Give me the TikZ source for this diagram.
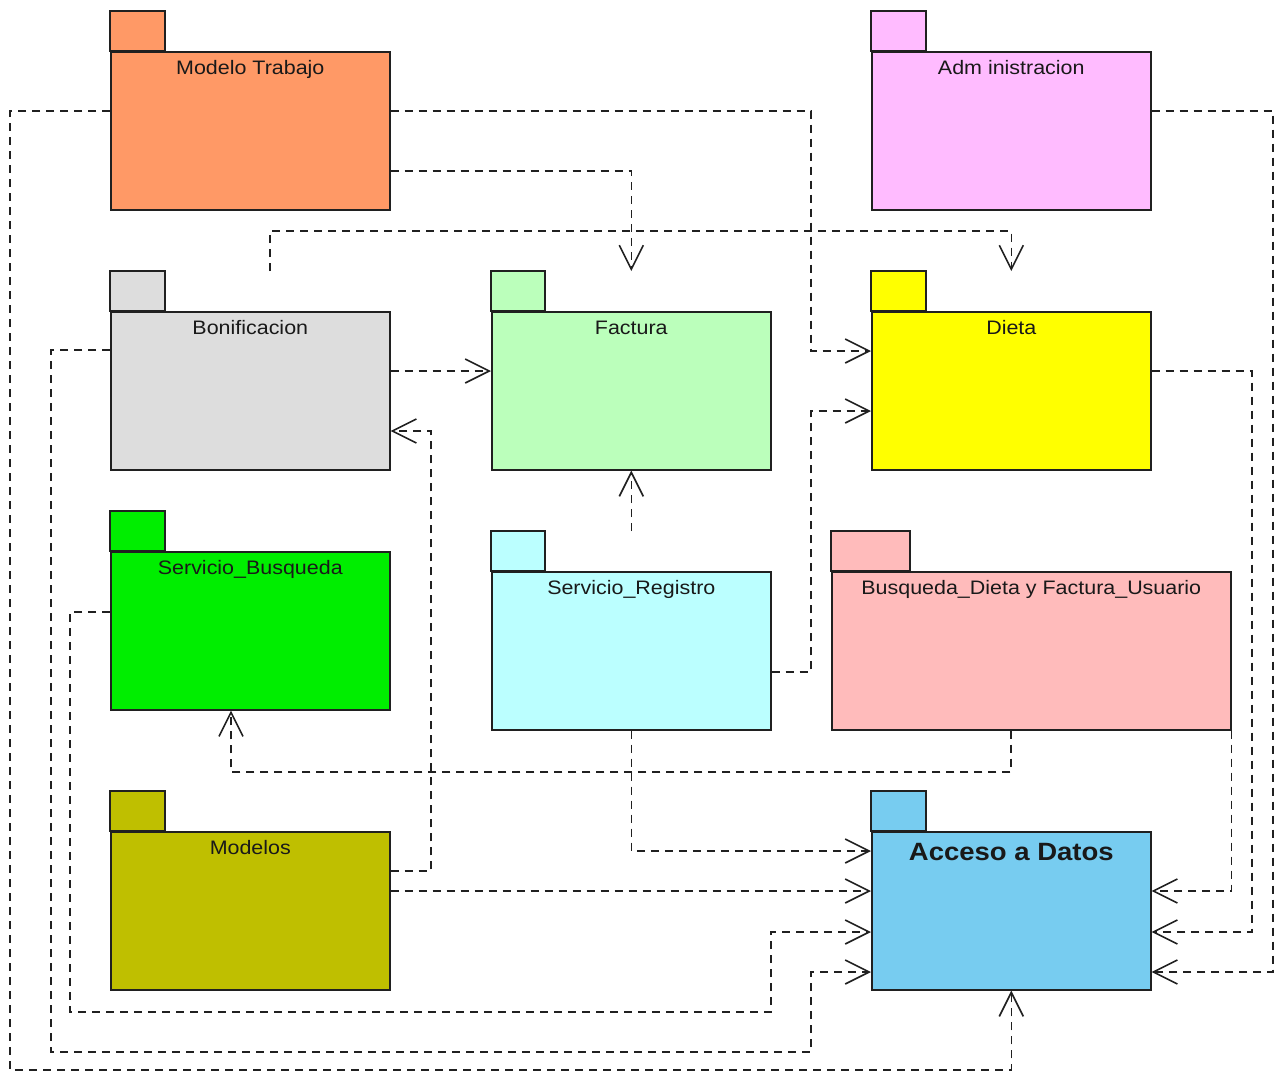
\documentclass[tikz,border=0pt]{standalone}
\usepackage{fontspec}
\setmainfont{Liberation Sans}[FakeStretch=1.1]
\usetikzlibrary{arrows.meta}
\definecolor{linec}{HTML}{202020}
\definecolor{cMT}{HTML}{FF9966}
\definecolor{cAD}{HTML}{FFBBFF}
\definecolor{cBO}{HTML}{DDDDDD}
\definecolor{cFA}{HTML}{BBFFBB}
\definecolor{cDI}{HTML}{FFFF00}
\definecolor{cSB}{HTML}{00EE00}
\definecolor{cSR}{HTML}{BBFFFF}
\definecolor{cBD}{HTML}{FFBBBB}
\definecolor{cMO}{HTML}{BFBF00}
\definecolor{cAC}{HTML}{77CCF0}
\tikzset{
  body/.style={draw=linec, line width=1.6pt, rectangle, anchor=north west, inner sep=0pt,
    minimum width=279pt, minimum height=158pt},
  tabbox/.style={draw=linec, line width=1.6pt},
  lbl/.style={anchor=base, inner sep=0pt, font=\fontsize{19.5}{22}\selectfont, text=black!90},
  biglbl/.style={anchor=base, inner sep=0pt, font=\fontsize{25}{28}\selectfont\bfseries, text=black!90},
  dep/.style={draw=linec, line width=1.6pt, dash pattern=on 8pt off 6pt,
    -{Straight Barb[length=24pt,width=24pt,line width=1.6pt]}},
}
\begin{document}
\begin{tikzpicture}[x=1pt,y=-1pt]
\useasboundingbox (0,0) rectangle (1279,1072);
\fill[white] (0,0) rectangle (1279,1072);

% ---- packages ----
% Modelo Trabajo
\draw[tabbox, fill=cMT] (110,11) rectangle (165,51);
\node[body, fill=cMT] (mt) at (110,51) {};
\node[lbl] (mtl) at ([yshift=-23pt]mt.north) {Modelo Trabajo};
% Administracion
\draw[tabbox, fill=cAD] (871,11) rectangle (926,51);
\node[body, fill=cAD] (ad) at (871,51) {};
\node[lbl] (adl) at ([yshift=-23pt]ad.north) {Adm inistracion};
% Bonificacion
\draw[tabbox, fill=cBO] (110,271) rectangle (165,311);
\node[body, fill=cBO] (bo) at (110,311) {};
\node[lbl] (bol) at ([yshift=-23pt]bo.north) {Bonificacion};
% Factura
\draw[tabbox, fill=cFA] (491,271) rectangle (545,311);
\node[body, fill=cFA] (fa) at (491,311) {};
\node[lbl] (fal) at ([yshift=-23pt]fa.north) {Factura};
% Dieta
\draw[tabbox, fill=cDI] (871,271) rectangle (926,311);
\node[body, fill=cDI] (di) at (871,311) {};
\node[lbl] (dil) at ([yshift=-23pt]di.north) {Dieta};
% Servicio_Busqueda
\draw[tabbox, fill=cSB] (110,511) rectangle (165,551);
\node[body, fill=cSB] (sb) at (110,551) {};
\node[lbl] (sbl) at ([yshift=-23pt]sb.north) {Servicio\_Busqueda};
% Servicio_Registro
\draw[tabbox, fill=cSR] (491,531) rectangle (545,571);
\node[body, fill=cSR] (sr) at (491,571) {};
\node[lbl] (srl) at ([yshift=-23pt]sr.north) {Servicio\_Registro};
% Busqueda_Dieta y Factura_Usuario
\draw[tabbox, fill=cBD] (831,531) rectangle (910,571);
\node[body, fill=cBD, minimum width=399pt] (bd) at (831,571) {};
\node[lbl] (bdl) at ([yshift=-23pt]bd.north) {Busqueda\_Dieta y Factura\_Usuario};
% Modelos
\draw[tabbox, fill=cMO] (110,791) rectangle (165,831);
\node[body, fill=cMO] (mo) at (110,831) {};
\node[lbl] (mol) at ([yshift=-23pt]mo.north) {Modelos};
% Acceso a Datos
\draw[tabbox, fill=cAC] (871,791) rectangle (926,831);
\node[body, fill=cAC] (acc) at (871,831) {};
\node[biglbl] (accl) at ([yshift=-29pt]acc.north) {Acceso a Datos};

% ---- dependencies ----
\draw[dep] ([yshift=-60pt]mt.north west) -| (10,1070) -| (acc.south);
\draw[dep] ([yshift=-60pt]mt.north east) -| (811,351) -- ([yshift=-40pt]di.north west);
\draw[dep] ([yshift=-120pt]mt.north east) -| ([yshift=40pt]fa.north);
\draw[dep] ([xshift=160pt,yshift=40pt]bo.north west) -- ++(0,-40) -| ([yshift=40pt]di.north);
\draw[dep] ([yshift=-60pt]bo.north east) -- ([yshift=-60pt]fa.north west);
\draw[dep] ([yshift=-40pt]mo.north east) -| (431,431) -- ([yshift=-120pt]bo.north east);
\draw[dep] ([yshift=-39pt]bo.north west) -| (51,1052) -| (811,972) -- ([yshift=-141pt]acc.north west);
\draw[dep] ([yshift=-61pt]sb.north west) -| (70,1012) -| (771,932) -- ([yshift=-101pt]acc.north west);
\draw[dep] (sr.south) |- ([yshift=-20pt]acc.north west);
\draw[dep] ([yshift=-60pt]mo.north east) -- ([yshift=-60pt]acc.north west);
\draw[dep] ([yshift=40pt]sr.north) -- (fa.south);
\draw[dep] ([yshift=-101pt]sr.north east) -| (811,411) -- ([yshift=-100pt]di.north west);
\draw[dep] ([xshift=180pt]bd.south west) |- (231,772) -- ([xshift=121pt]sb.south west);
\draw[dep] (bd.south east) |- ([yshift=-60pt]acc.north east);
\draw[dep] ([yshift=-60pt]di.north east) -| (1252,932) -- ([yshift=-101pt]acc.north east);
\draw[dep] ([yshift=-60pt]ad.north east) -| (1273,972) -- ([yshift=-141pt]acc.north east);
\end{tikzpicture}
\end{document}
